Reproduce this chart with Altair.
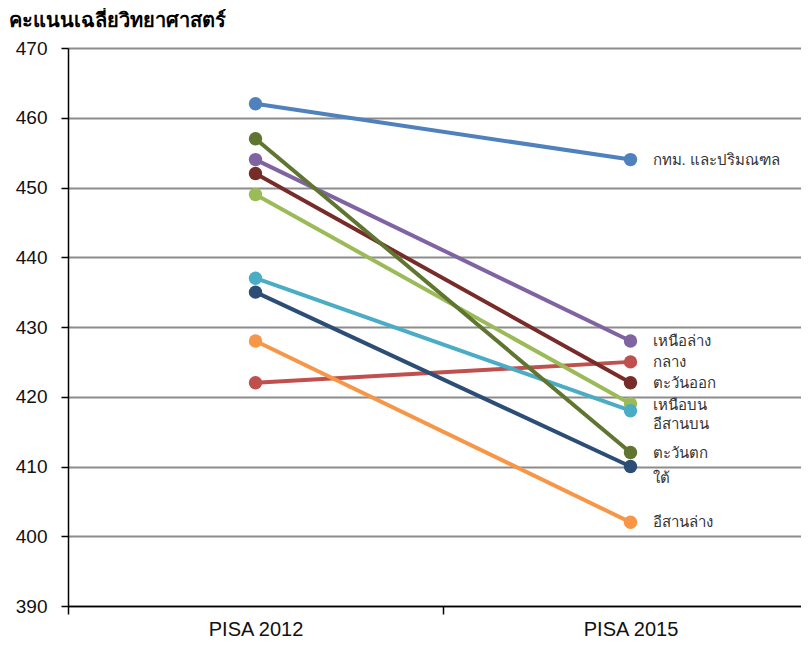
import altair as alt
import pandas as pd

regions = ["กทม. และปริมณฑล", "เหนือล่าง", "กลาง", "ตะวันออก", "เหนือบน",
           "อีสานบน", "ตะวันตก", "ใต้", "อีสานล่าง"]
pisa_2012 = [462, 454, 422, 452, 449, 437, 457, 435, 428]
pisa_2015 = [454, 428, 425, 422, 419, 418, 412, 410, 402]
rounds = ["PISA 2012", "PISA 2015"]
colors = ["#4F81BD", "#8064A2", "#C0504D", "#772C2A", "#9BBB59",
          "#4BACC6", "#5F7530", "#2C4D75", "#F79646"]

# label nudges (data units) to avoid overlaps
nudge = {"เหนือบน": -0.2, "อีสานบน": -1.9, "ใต้": -1.65}

rows = []
for r, a, b in zip(regions, pisa_2012, pisa_2015):
    rows.append({"region": r, "round": rounds[0], "score": a})
    rows.append({"region": r, "round": rounds[1], "score": b})
df = pd.DataFrame(rows)

lab = pd.DataFrame({"region": regions, "round": rounds[1], "score": pisa_2015})
lab["ly"] = [s + nudge.get(r, 0) for r, s in zip(regions, pisa_2015)]

FONT = "Liberation Sans, Arial, sans-serif"
xscale = alt.Scale(domain=rounds, paddingInner=0, paddingOuter=0, range=[0, 750])
yscale = alt.Scale(domain=[390, 470], nice=False, zero=False)

x = alt.X("round:N", scale=xscale,
          axis=alt.Axis(title=None, labelAngle=0, tickBand="extent", labelFontSize=20,
                        labelFont=FONT, labelColor="#111", labelPadding=5,
                        domainColor="#000", domainWidth=1.5, tickColor="#000",
                        tickSize=8, tickWidth=1.5, grid=False))
y = alt.Y("score:Q", scale=yscale,
          axis=alt.Axis(title=None, values=list(range(390, 471, 10)), labelFontSize=19,
                        labelFont=FONT, labelColor="#111", labelPadding=14,
                        domainColor="#000", domainWidth=1.5, tickColor="#000",
                        tickSize=7, tickWidth=1.5, grid=True, gridColor="#8c8c8c",
                        gridWidth=2))
color = alt.Color("region:N", scale=alt.Scale(domain=regions, range=colors), legend=None)

base = alt.Chart(df)
lines = base.mark_line(strokeWidth=4).encode(x=x, y=y, color=color, detail="region:N")
points = base.mark_point(filled=True, size=180, opacity=1).encode(x=x, y=y, color=color)

labels = alt.Chart(lab).mark_text(align="left", baseline="middle", dx=22, fontSize=15,
                                  font="Tahoma, sans-serif", color="#333").encode(
    x=alt.X("round:N", scale=xscale),
    y=alt.Y("ly:Q", scale=yscale),
    text="region:N")

chart = alt.layer(lines, points, labels).properties(
    width=733, height=558,
    autosize=alt.AutoSizeParams(type="none"),
    padding={"left": 60, "top": 40, "right": 0, "bottom": 35},
    title=alt.Title("คะแนนเฉลี่ยวิทยาศาสตร์", anchor="start", fontSize=20,
                    fontWeight="bold", color="#000", dx=-6, offset=8,
                    font="Tahoma, sans-serif"),
).configure_view(stroke=None)

chart.save("out.html", embed_options={"renderer": "svg", "actions": False})
